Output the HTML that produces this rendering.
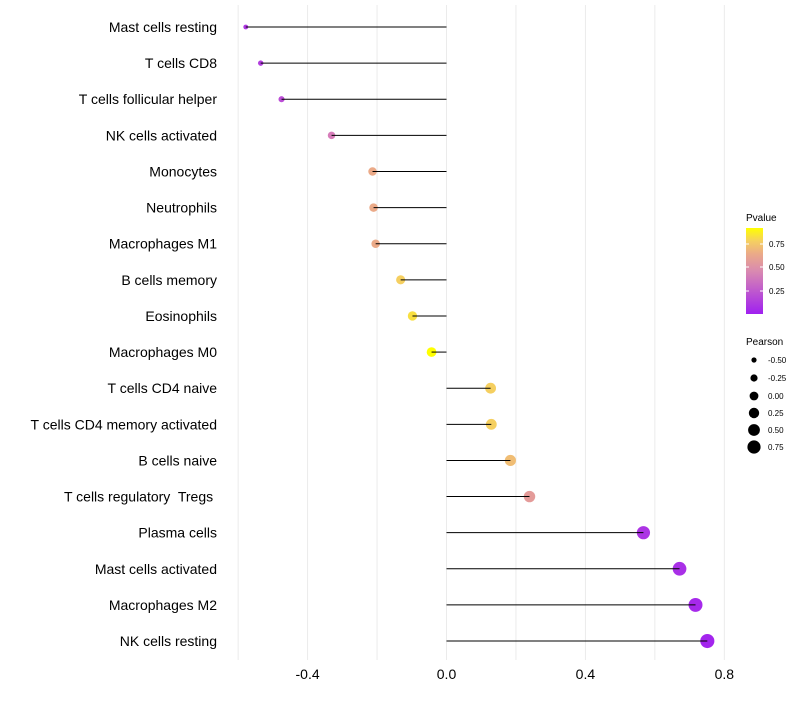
<!DOCTYPE html>
<html><head><meta charset="utf-8"><style>
body{margin:0;background:#fff;font-family:"Liberation Sans",sans-serif}
svg text{font-family:"Liberation Sans",sans-serif;white-space:pre}
</style></head><body>
<svg id="chart" width="800" height="700" xmlns="http://www.w3.org/2000/svg">
<defs><linearGradient id="pg" x1="0" y1="1" x2="0" y2="0">
<stop offset="0" stop-color="#A020F0"/><stop offset="0.5" stop-color="#D98AB0"/><stop offset="0.7" stop-color="#EBAA88"/><stop offset="0.85" stop-color="#F5D060"/><stop offset="1" stop-color="#FFFF00"/></linearGradient></defs>
<g id="grid"></g><g id="marks"></g><g id="labels"></g>
<g>
<text x="746" y="221" font-size="10">Pvalue</text>
<rect x="746" y="228" width="17" height="86" fill="url(#pg)"/>
<line x1="746" y1="244" x2="749" y2="244" stroke="#fff"/><line x1="760" y1="244" x2="763" y2="244" stroke="#fff"/>
<line x1="746" y1="267" x2="749" y2="267" stroke="#fff"/><line x1="760" y1="267" x2="763" y2="267" stroke="#fff"/>
<line x1="746" y1="291" x2="749" y2="291" stroke="#fff"/><line x1="760" y1="291" x2="763" y2="291" stroke="#fff"/>
<text x="769" y="247" font-size="8">0.75</text><text x="769" y="270" font-size="8">0.50</text><text x="769" y="294" font-size="8">0.25</text>
</g>
<g>
<text x="746" y="345" font-size="10">Pearson</text>
<circle cx="754" cy="360" r="2.6"/><text x="768" y="363" font-size="8">-0.50</text>
<circle cx="754" cy="378" r="3.6"/><text x="768" y="381" font-size="8">-0.25</text>
<circle cx="754" cy="396" r="4.4"/><text x="768" y="399" font-size="8">0.00</text>
<circle cx="754" cy="413" r="5.2"/><text x="768" y="416" font-size="8">0.25</text>
<circle cx="754" cy="430" r="5.9"/><text x="768" y="433" font-size="8">0.50</text>
<circle cx="754" cy="447" r="6.6"/><text x="768" y="450" font-size="8">0.75</text>
</g>
</svg>
<script>
const categories=["Mast cells resting","T cells CD8","T cells follicular helper","NK cells activated","Monocytes","Neutrophils","Macrophages M1","B cells memory","Eosinophils","Macrophages M0","T cells CD4 naive","T cells CD4 memory activated","B cells naive","T cells regulatory  Tregs ","Plasma cells","Mast cells activated","Macrophages M2","NK cells resting"];
const pearson=[-0.578,-0.535,-0.475,-0.331,-0.213,-0.21,-0.204,-0.132,-0.098,-0.043,0.127,0.129,0.184,0.239,0.567,0.671,0.717,0.751];
const pvalue=[0.12,0.15,0.22,0.45,0.6,0.6,0.6,0.8,0.85,0.95,0.8,0.8,0.7,0.55,0.1,0.08,0.05,0.03];
const xTicks=[-0.4,0,0.4,0.8];
const xTickLabels=["-0.4","0.0","0.4","0.8"];
const NS="http://www.w3.org/2000/svg";
const x=v=>446.5+v*347.3;
const y=i=>27+i*36.12;
const rad=v=>Math.sqrt(Math.max(1,25+33*v));
function lerp(a,b,t){return a.map((c,k)=>Math.round(c+(b[k]-c)*t));}
function color(p){const st=[[0.005,[160,32,240]],[0.45,[215,125,186]],[0.6,[235,170,136]],[0.8,[245,207,96]],[0.95,[255,255,0]]];
 if(p<=st[0][0])return 'rgb('+st[0][1]+')';
 for(let k=1;k<st.length;k++){if(p<=st[k][0]){const t=(p-st[k-1][0])/(st[k][0]-st[k-1][0]);return 'rgb('+lerp(st[k-1][1],st[k][1],t)+')';}}
 return 'rgb(255,255,0)';}
function mk(tag,at,parent){const e=document.createElementNS(NS,tag);for(const k in at)e.setAttribute(k,at[k]);document.getElementById(parent).appendChild(e);return e;}
for(let v=-0.6;v<=0.81;v+=0.2){const g=mk('line',{x1:x(v),x2:x(v),y1:5,y2:660,stroke:'#ebebeb','stroke-width':1},'grid');

}
xTicks.forEach((v,i)=>{const t=mk('text',{x:x(v),y:679,'font-size':14,'text-anchor':'middle',fill:'#000'},'labels');t.textContent=xTickLabels[i];

});
categories.forEach((c,i)=>{
 const t=mk('text',{x:217,y:y(i)+5,'font-size':14,'text-anchor':'end',fill:'#000'},'labels');t.textContent=c;
 
 
 const d=mk('circle',{cx:x(pearson[i]),cy:y(i),r:rad(pearson[i]),fill:color(pvalue[i])},'marks');
 
 
 const l=mk('line',{x1:x(0),x2:x(pearson[i]),y1:y(i),y2:y(i),stroke:'#000','stroke-width':1},'marks');
 
 
});
</script>
</body></html>
